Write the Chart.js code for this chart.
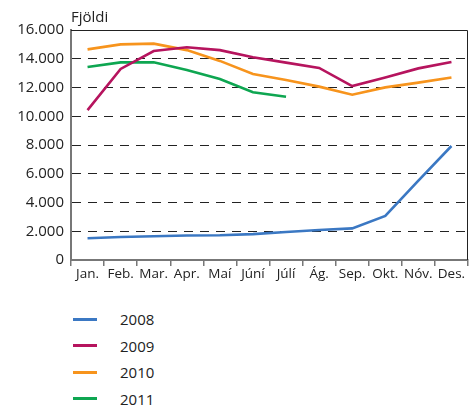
<!DOCTYPE html>
<html>
<head>
<meta charset="utf-8">
<script src="https://cdn.jsdelivr.net/npm/chart.js@4"></script>
<style>
  body { margin: 0; background: #fff; }
  #wrap { position: relative; width: 473px; height: 407px; }
  #legend { position: absolute; left: 73px; top: 306px; font: 15px "Open Sans", sans-serif; color: #222; }
  .item { height: 26.5px; display: flex; align-items: center; }
  .swatch { width: 24px; height: 3px; margin-right: 23px; }
</style>
</head>
<body>
<div id="wrap">
  <canvas id="myChart" width="473" height="292"></canvas>
  <div id="legend"></div>
</div>
<script>
// Fjöldi per month, 2008-2011
const months = ["Jan.", "Feb.", "Mar.", "Apr.", "Maí", "Júní", "Júlí", "Ág.", "Sep.", "Okt.", "Nóv.", "Des."];
const years = ["2008", "2009", "2010", "2011"];
const colors = ["#3b78c3", "#b6145e", "#f7941d", "#0ea651"];

const data2008 = [1510, 1600, 1650, 1700, 1720, 1800, 1950, 2090, 2200, 3060, 5520, 7930];
const data2009 = [10430, 13290, 14540, 14800, 14600, 14100, 13730, 13360, 12100, 12700, 13330, 13770];
const data2010 = [14650, 15000, 15050, 14600, 13850, 12940, 12520, 12060, 11500, 12010, 12340, 12700];
const data2011 = [13430, 13750, 13750, 13220, 12590, 11670, 11360];

const yTicks = [0, 2000, 4000, 6000, 8000, 10000, 12000, 14000, 16000];

const series = [data2008, data2009, data2010, data2011];
const font = "'Open Sans', sans-serif";

// frame on top/right + "Fjöldi" label
const framePlugin = {
  id: "frame",
  afterDraw(chart) {
    const { ctx, chartArea: a } = chart;
    ctx.save();
    ctx.strokeStyle = "#222";
    ctx.lineWidth = 1;
    ctx.beginPath();
    ctx.moveTo(a.left, a.top + 0.5);
    ctx.lineTo(a.right - 0.5, a.top + 0.5);
    ctx.lineTo(a.right - 0.5, a.bottom);
    ctx.stroke();
    ctx.fillStyle = "#222";
    ctx.font = "15px " + font;
    ctx.textBaseline = "alphabetic";
    ctx.fillText("Fjöldi", a.left, 22);
    ctx.restore();
  }
};

const myChart = new Chart("myChart", {
  type: "line",
  data: {
    labels: months,
    datasets: years.map((y, i) => ({
      label: y,
      data: series[i],
      borderColor: colors[i],
      backgroundColor: colors[i],
      borderWidth: 2.6,
      pointRadius: 0,
      tension: 0,
      fill: false
    }))
  },
  options: {
    responsive: false,
    animation: false,
    layout: { padding: { top: 30, right: 5, left: 0, bottom: 0 } },
    plugins: {
      legend: { display: false },
      tooltip: { enabled: false }
    },
    scales: {
      x: {
        offset: true,
        grid: { offset: true, drawOnChartArea: false, drawTicks: true, tickLength: 6, color: "#777", lineWidth: 1.5 },
        border: { color: "#777", width: 2 },
        ticks: { color: "#222", padding: 0, maxRotation: 0, autoSkip: false, font: { family: font, size: 13.5 } },
        afterFit(s) { s.height = 32; }
      },
      y: {
        min: 0,
        max: 16000,
        afterBuildTicks(s) { s.ticks = yTicks.map(v => ({ value: v })); },
        grid: {
          drawTicks: false,
          color: c => (c.tick.value === 0 || c.tick.value === 16000) ? "rgba(0,0,0,0)" : "#222",
          lineWidth: 1
        },
        border: { color: "#777", width: 2, dash: [9, 7] },
        ticks: {
          color: "#222",
          padding: 7,
          font: { family: font, size: 15 },
          callback: v => v.toLocaleString("de-DE")
        },
        afterFit(s) { s.width = 71; }
      }
    }
  },
  plugins: [framePlugin]
});

const legend = document.getElementById("legend");
years.forEach((y, i) => {
  const row = document.createElement("div");
  row.className = "item";
  row.innerHTML = '<span class="swatch" style="background:' + colors[i] + '"></span><span>' + y + "</span>";
  legend.appendChild(row);
});
</script>
</body>
</html>
